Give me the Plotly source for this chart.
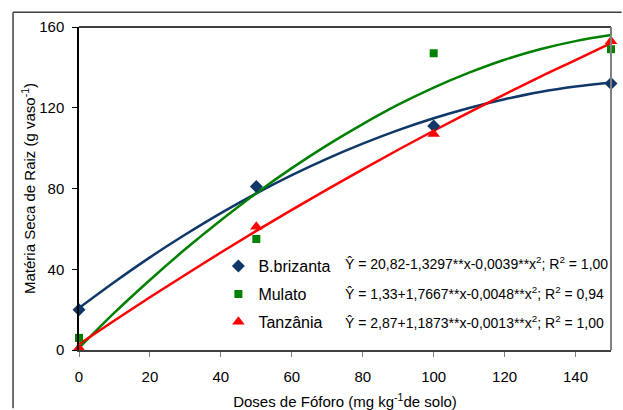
import plotly.graph_objects as go

# Observed data
doses = [0, 50, 100, 150]
brizanta = [20, 81, 111, 132]
mulato = [6, 55, 147, 149]
tanzania = [1, 61, 107, 153]

# Fitted curves
curve_x = [0, 10, 20, 30, 40, 50, 60, 70, 80, 90, 100, 110, 120, 130, 140, 150]
curve_brizanta = [20.8, 33.7, 45.9, 57.2, 67.8, 77.6, 86.6, 94.8, 102.2, 108.9, 114.8, 119.9, 124.2, 127.8, 130.5, 132.5]
curve_mulato = [1.0, 18.5, 34.7, 50.0, 64.3, 77.7, 90.1, 101.5, 111.9, 121.5, 130.0, 137.4, 143.8, 149.0, 153.0, 156.0]
curve_tanzania = [2.9, 14.6, 26.1, 37.3, 48.3, 59.0, 69.4, 79.6, 89.5, 99.2, 108.6, 117.7, 126.6, 135.3, 143.6, 152.0]

names = ["B.brizanta", "Mulato", "Tanzânia"]
equations = [
    "Ŷ = 20,82-1,3297**x-0,0039**x<sup>2</sup>; R<sup>2</sup> = 1,00",
    "Ŷ = 1,33+1,7667**x-0,0048**x<sup>2</sup>; R<sup>2</sup> = 0,94",
    "Ŷ = 2,87+1,1873**x-0,0013**x<sup>2</sup>; R<sup>2</sup> = 1,00",
]
x_ticks = [0, 20, 40, 60, 80, 100, 120, 140]
y_ticks = [0, 40, 80, 120, 160]

colors = ["#0F3869", "#008000", "#FF0000"]
symbols = ["diamond", "square", "triangle-up"]
sizes = [10, 8, 11]

fig = go.Figure()
for name, curve, col in zip(names, [curve_brizanta, curve_mulato, curve_tanzania], colors):
    fig.add_trace(go.Scatter(x=curve_x, y=curve, mode="lines", line=dict(color=col, width=2.5),
                             line_shape="spline", showlegend=False, hoverinfo="skip", cliponaxis=False))
for i, (name, vals) in enumerate(zip(names, [brizanta, mulato, tanzania])):
    fig.add_trace(go.Scatter(x=doses, y=vals, mode="markers", name=name,
                             marker=dict(color=colors[i], symbol=symbols[i], size=sizes[i]),
                             legendgroup=name, cliponaxis=False))

font = "Liberation Sans, Arial, sans-serif"
for k, eq in enumerate(equations):
    fig.add_annotation(xref="paper", yref="paper", x=0.497, y=0.268 - k * 0.09, text=eq,
                       showarrow=False, xanchor="left", yanchor="middle",
                       font=dict(family=font, size=14, color="black"))

# plot frame lines
fig.add_shape(type="line", xref="paper", yref="paper", x0=0, x1=1, y0=1, y1=1,
              line=dict(color="black", width=1.5))
fig.add_shape(type="line", xref="paper", yref="paper", x0=1, x1=1, y0=0, y1=1,
              line=dict(color="#808080", width=2))
# outer chart border (only its left and top edges fall inside the picture)
fig.add_shape(type="line", xref="paper", yref="paper", x0=-0.124, x1=-0.124, y0=-0.18, y1=1.046,
              line=dict(color="#404040", width=1.5))
fig.add_shape(type="line", xref="paper", yref="paper", x0=-0.124, x1=1.02, y0=1.046, y1=1.046,
              line=dict(color="#404040", width=1.5))

fig.update_layout(
    width=623, height=410,
    margin=dict(l=79, r=12, t=27, b=60, autoexpand=False),
    paper_bgcolor="white", plot_bgcolor="white",
    font=dict(family=font, size=15, color="black"),
    showlegend=True,
    legend=dict(x=0.262, y=0.312, xanchor="left", yanchor="top", bgcolor="rgba(0,0,0,0)",
                font=dict(family=font, size=16), tracegroupgap=4, itemwidth=30),
    xaxis=dict(range=[0, 150], tickvals=x_ticks, ticks="outside", ticklen=5, tickcolor="#808080",
               showline=True, linecolor="#404040", linewidth=2, showgrid=False, zeroline=False,
               ticklabelstandoff=7, automargin=False,
               title=dict(text="Doses de Fóforo (mg kg<sup>-1</sup>de solo)", font=dict(size=15))),
    yaxis=dict(range=[0, 160], tickvals=y_ticks, ticks="outside", ticklen=5, tickcolor="black",
               showline=True, linecolor="black", linewidth=1.5, showgrid=False, zeroline=False,
               ticklabelstandoff=5, automargin=False,
               title=dict(text="Matéria Seca de Raiz (g vaso<sup>-1</sup>)", font=dict(size=15), standoff=0)),
)

fig.write_html("out.html", config={"displayModeBar": False},
               post_script="document.body.style.margin='0';document.body.style.padding='0';")
